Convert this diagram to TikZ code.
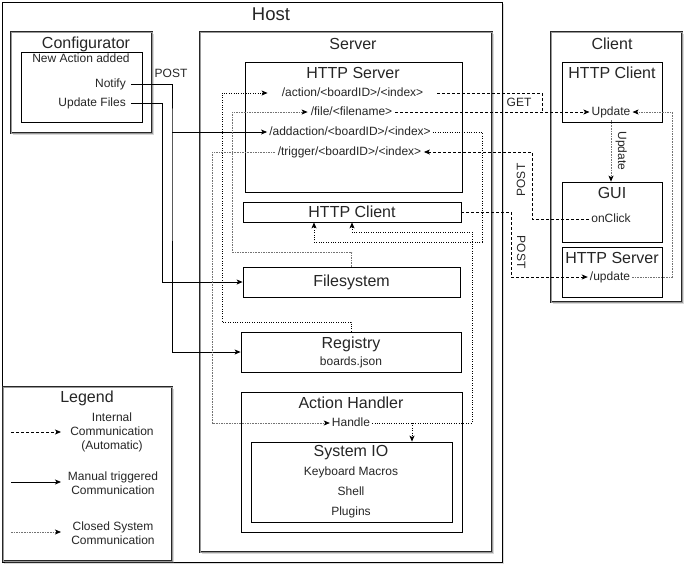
\documentclass[tikz,border=0pt]{standalone}
\usepackage{fontspec}
\setmainfont{Liberation Sans}
\usetikzlibrary{arrows.meta,shadows}

\newcommand{\lblfont}{\fontsize{12}{14}\selectfont}
\newcommand{\ttlfont}{\fontsize{16}{19}\selectfont}
\newcommand{\hostfont}{\fontsize{18.5}{22}\selectfont}

\begin{document}
\begin{tikzpicture}[x=1pt,y=-1pt,
    >={Stealth[length=6pt,width=5pt,inset=1.5pt]},
    txt/.style={inner sep=2pt,font=\lblfont,text=black!85,text height=9pt,text depth=3pt},
    multi/.style={inner sep=0pt,font=\lblfont,text=black!85,align=center},
    ttl/.style={inner sep=0pt,font=\ttlfont,text=black!85},
    box/.style={draw,line width=0.8pt,fill=white,inner sep=0pt},
    frame/.style={box,draw=black!85,double=black!40,double distance=0.9pt,line width=0.9pt,
        drop shadow={opacity=0.3,shadow xshift=2pt,shadow yshift=-2pt}},
    manual/.style={line width=0.8pt},
    internal/.style={line width=0.8pt,dash pattern=on 3pt off 2pt},
    sysline/.style={line width=0.8pt,dash pattern=on 0.8pt off 1.6pt},
    closed/.style={black!55,line width=0.7pt,dash pattern=on 1.6pt off 1pt,
        >={Stealth[length=6pt,width=5pt,inset=1.5pt,color=black]}}]
\useasboundingbox (0,0) rectangle (693,574);

% host
\node[box,line width=0.9pt,minimum width=500pt,minimum height=560pt,
    drop shadow={opacity=0.3,shadow xshift=2pt,shadow yshift=-2pt}] (host) at (252,282) {};
\node[ttl,font=\hostfont] (hostT) at (271,14) {Host};

% configurator
\node[frame,minimum width=141pt,minimum height=101pt] (conf) at (81.5,82.5) {};
\node[ttl] (confT) at (86,44) {Configurator};
\node[box,minimum width=121pt,minimum height=70pt] (confin) at (81.5,87) {};
\node[txt] (newact) at (81,59) {New Action added};
\node[txt,anchor=east,inner xsep=5pt] (notify) at (131,84) {Notify};
\node[txt,anchor=east,inner xsep=5pt] (updfiles) at (131,103) {Update Files};

% server
\node[frame,minimum width=292pt,minimum height=520pt] (srv) at (346,292) {};
\node[ttl] (srvT) at (353,44) {Server};
\node[box,minimum width=217pt,minimum height=130pt] (hsrv) at (353.5,127) {};
\node[ttl] (hsrvT) at (353,73) {HTTP Server};
\node[txt,inner xsep=14pt] (action) at (352.5,93) {/action/<boardID>/<index>};
\node[txt,inner xsep=3pt] (file) at (351.5,112) {/file/<filename>};
\node[txt] (addaction) at (350,132) {/addaction/<boardID>/<index>};
\node[txt,inner xsep=2.5pt] (trigger) at (349.5,152) {/trigger/<boardID>/<index>};
\node[box,font=\ttlfont,text=black!85,minimum width=218pt,minimum height=20pt] (hcli) at (352,212) {HTTP Client};
\node[box,font=\ttlfont,text=black!85,minimum width=217pt,minimum height=30pt] (fsys) at (351.5,282) {Filesystem};
\node[box,minimum width=220pt,minimum height=40pt] (reg) at (351,352) {};
\node[ttl] (regT) at (351,344) {Registry};
\node[txt] (boards) at (351,362) {boards.json};
\node[box,minimum width=221pt,minimum height=140pt] (ahand) at (351.5,462) {};
\node[ttl] (ahandT) at (351,403) {Action Handler};
\node[txt] (handle) at (351,423) {Handle};
\node[box,minimum width=201pt,minimum height=80pt] (sysio) at (351.5,482) {};
\node[ttl] (sysioT) at (351,453) {System IO};
\node[txt] (macros) at (351,472) {Keyboard Macros};
\node[txt] (shell) at (351,492) {Shell};
\node[txt] (plugins) at (351,512) {Plugins};

% client
\node[frame,minimum width=131pt,minimum height=270pt] (cli) at (616.5,167) {};
\node[ttl] (cliT) at (612,44) {Client};
\node[box,minimum width=100pt,minimum height=60pt] (chttp) at (612,92) {};
\node[ttl] (chttpT) at (612,73) {HTTP Client};
\node[txt] (cupdate) at (611,112) {Update};
\node[box,minimum width=100pt,minimum height=60pt] (gui) at (612,212) {};
\node[ttl] (guiT) at (612,193) {GUI};
\node[txt] (onclick) at (611,219) {onClick};
\node[box,minimum width=100pt,minimum height=50pt] (csrv) at (612,272) {};
\node[ttl] (csrvT) at (612,258) {HTTP Server};
\node[txt] (cupd) at (610,277) {/update};

% legend
\node[frame,minimum width=169pt,minimum height=174pt] (legend) at (87.5,474) {};
\node[ttl] (legendT) at (87,398) {Legend};
\coordinate (i1) at (11,432); \coordinate (i2) at (61,432);
\coordinate (m1) at (11,482); \coordinate (m2) at (61,482);
\coordinate (c1) at (11,532); \coordinate (c2) at (61,532);
\draw[internal,->] (i1) -- (i2);
\draw[manual,->] (m1) -- (m2);
\draw[closed,->] (c1) -- (c2);
\node[multi] (intT) at (112,432) {Internal\\Communication\\(Automatic)};
\node[multi] (manT) at (113,483) {Manual triggered\\Communication};
\node[multi] (cloT) at (113,533) {Closed System\\Communication};

% manual
\draw[manual,->] (notify.east) -| (172,132) |- (reg.west);
\draw[manual,->] (172,132) -- (addaction.west);
\draw[manual,->] (updfiles.east) -| (162,282) -- (fsys.west);
\node[txt] (postA) at (171,74) {POST};

% internal
\draw[internal] (action.east) -| (542,112);
\draw[internal,->] (file.east) -- (cupdate.west);
\node[txt] (getL) at (519,103) {GET};
\draw[internal,->] (onclick.west) -| (532,152) -- (trigger.east);
\node[txt,rotate=90] (postB) at (522,180) {POST};
\draw[internal,->] (hcli.east) -| (511,277) -- (cupd.west);
\node[txt,rotate=-90] (postC) at (520,252) {POST};

% system
\draw[sysline,->] (reg.north) |- (222,322) |- (action.west);
\draw[sysline,->] (addaction.east) -| (482,242) -| ([xshift=-38pt]hcli.south);
\draw[sysline,->] (handle.east) -| (472,232) -| (hcli.south);
\coordinate (hsplit) at (412,423);
\draw[sysline,->] (hsplit) -- (hsplit |- sysio.north);

% closed
\draw[closed,->] (fsys.north) |- (232,252) |- (file.west);
\draw[closed,->] (trigger.west) -| (212,423) -- (handle.west);
\draw[closed,->] (cupd.east) -| (672,112) -- (cupdate.east);
\draw[closed,->] (cupdate.south) -- (cupdate.south |- gui.north);
\node[txt,rotate=-90] (updL) at (621,151) {Update};
\end{tikzpicture}
\end{document}
